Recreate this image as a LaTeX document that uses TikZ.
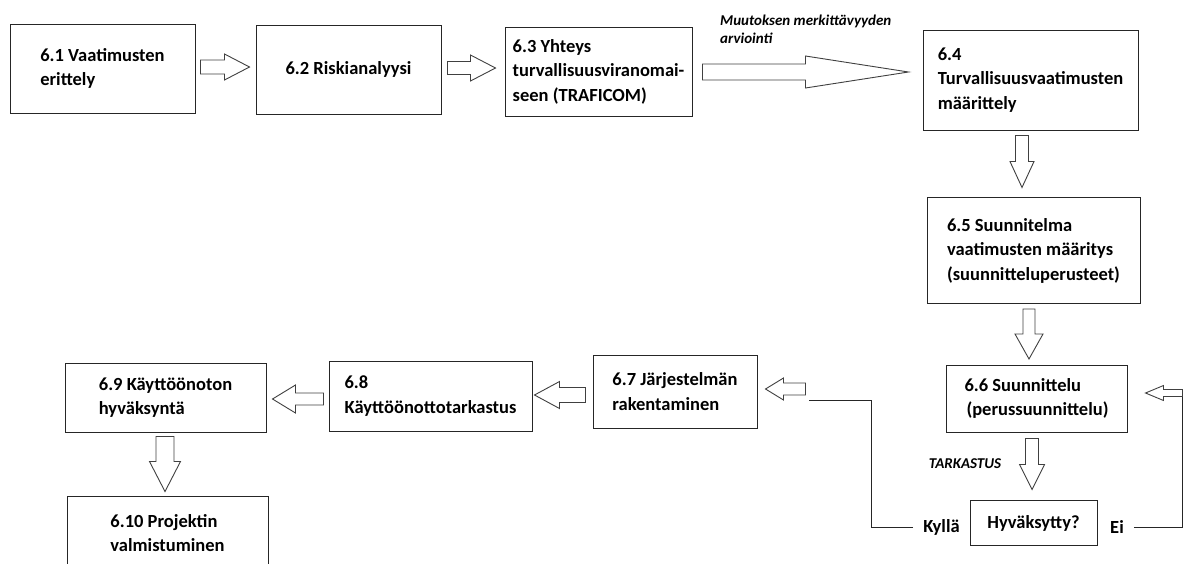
\documentclass[tikz,border=0pt]{standalone}
\usepackage{fontspec}
\setmainfont{Carlito}
\usepackage{tikz}
\usetikzlibrary{calc}

% outlined block arrow: tail, tip, half shaft, half head, head length
\newcommand{\blkarrow}[5]{%
    \coordinate (hb) at ($(#2)!#5!(#1)$);
    \draw[barrow] ($(#1)!#3!90:(#2)$) -- ($(hb)!#3!90:(#2)$) -- ($(hb)!#4!90:(#2)$)
        -- (#2) -- ($(hb)!#4!-90:(#2)$) -- ($(hb)!#3!-90:(#2)$) -- ($(#1)!#3!-90:(#2)$) -- cycle;
}

\begin{document}
\begin{tikzpicture}[x=1pt, y=-1pt,
    phase/.style={draw=black!85, line width=1pt, align=left, inner sep=0pt,
        font=\fontsize{18.5}{24.5}\selectfont\bfseries},
    answer/.style={inner xsep=10pt, inner ysep=2pt, font=\fontsize{18.5}{22}\selectfont\bfseries},
    note/.style={align=left, inner sep=0pt, font=\fontsize{15}{18}\selectfont\bfseries\itshape},
    barrow/.style={draw=black!75, fill=white, line width=0.9pt, line join=miter},
    loopline/.style={draw=black!85, line width=1pt}
    ]
    \useasboundingbox (0,0) rectangle (1184,563);

    % Top row
    \node[phase, minimum width=185, minimum height=89] (b61) at (102.5,68.5) {6.1 Vaatimusten\\erittely};
    \node[phase, minimum width=185, minimum height=89] (b62) at (348.5,69.5) {6.2 Riskianalyysi};
    \node[phase, minimum width=187, minimum height=89] (b63) at (598.5,71.5) {6.3 Yhteys\\turvallisuusviranomai-\\seen (TRAFICOM)};
    \node[phase, minimum width=215, minimum height=100] (b64) at (1030.5,80) {6.4\\Turvallisuusvaatimusten\\määrittely};
    \node[note, anchor=west] (muut) at (720,29) {Muutoksen merkittävyyden\\arviointi};

    % Right column
    \node[phase, minimum width=213, minimum height=106] (b65) at (1033.5,250.5) {6.5 Suunnitelma\\vaatimusten määritys\\(suunnitteluperusteet)};
    \node[phase, minimum width=181, minimum height=67] (b66) at (1036.5,398.5) {6.6 Suunnittelu\\\hspace{2pt}(perussuunnittelu)};
    \node[phase, minimum width=127, minimum height=45] (hyv) at (1033.5,523) {Hyväksytty?};
    \node[note] (tark) at (965,464) {TARKASTUS};
    \node[answer] (kylla) at (941.5,527) {Kyllä};
    \node[answer] (ei) at (1117,527) {Ei};

    % Bottom row
    \node[phase, minimum width=164, minimum height=73] (b67) at (675,391.5) {6.7 Järjestelmän\\rakentaminen};
    \node[phase, minimum width=203, minimum height=70] (b68) at (430.5,396) {6.8\\Käyttöönottotarkastus};
    \node[phase, minimum width=201, minimum height=69] (b69) at (165.5,397.5) {6.9 Käyttöönoton\\hyväksyntä};
    \node[phase, minimum width=201, minimum height=74] (b610) at (167.5,533) {6.10 Projektin\\valmistuminen};

    % Arrow ends
    \coordinate (a12s) at ($(b61.east)+(5,-1.5)$);
    \coordinate (a12e) at ($(b62.west)+(-6,-2.5)$);
    \coordinate (a23s) at ($(b62.east)+(6,-1.5)$);
    \coordinate (a23e) at ($(b63.west)+(-9,-3.5)$);
    \coordinate (a34s) at ($(b63.east)+(10,0.5)$);
    \coordinate (a34e) at ($(b64.west)+(-14,-8)$);
    \coordinate (a45s) at ($(b64.south)+(-8.5,5)$);
    \coordinate (a45e) at ($(b65.north)+(-11.5,-9.5)$);
    \coordinate (a56s) at ($(b65.south)+(-4.5,5)$);
    \coordinate (a56e) at ($(b66.north)+(-7.5,-5.5)$);
    \coordinate (a6hs) at ($(b66.south)+(-4.5,6)$);
    \coordinate (a6he) at ($(hyv.north)+(-1.5,-10.5)$);
    \coordinate (a66s) at ($(b66.east)+(55,-5.5)$);
    \coordinate (a66e) at ($(b66.east)+(18,-5.5)$);
    \coordinate (a77s) at ($(b67.east)+(48,-2.5)$);
    \coordinate (a77e) at ($(b67.east)+(8,-2.5)$);
    \coordinate (a78s) at ($(b67.west)+(-7,3.5)$);
    \coordinate (a78e) at ($(b68.east)+(2,-1)$);
    \coordinate (a89s) at ($(b68.west)+(-5,3)$);
    \coordinate (a89e) at ($(b69.east)+(6,1.5)$);
    \coordinate (a910s) at ($(b69.south)+(-0.5,4)$);
    \coordinate (a910e) at ($(b610.north)+(-2.5,-4)$);

    % Block arrows
    \blkarrow{a12s}{a12e}{7pt}{13pt}{25pt}
    \blkarrow{a23s}{a23e}{6.5pt}{13pt}{25pt}
    \blkarrow{a34s}{a34e}{8pt}{16pt}{103pt}
    \blkarrow{a45s}{a45e}{6.5pt}{12pt}{26pt}
    \blkarrow{a56s}{a56e}{6pt}{14pt}{25pt}
    \blkarrow{a6hs}{a6he}{6.5pt}{12.5pt}{25pt}
    \blkarrow{a66s}{a66e}{3.5pt}{7.5pt}{18pt}
    \blkarrow{a77s}{a77e}{6pt}{11pt}{18pt}
    \blkarrow{a78s}{a78e}{7.5pt}{13.5pt}{25pt}
    \blkarrow{a89s}{a89e}{6pt}{14pt}{23pt}
    \blkarrow{a910s}{a910e}{9pt}{15.5pt}{30pt}

    % Feedback lines
    \draw[loopline] (ei.east) -| ($(a66s)+(0,4)$);
    \draw[loopline] (kylla.west) -| ($(a77s)+(66,11.5)$) -- ($(a77s)+(3,11.5)$);
\end{tikzpicture}
\end{document}
